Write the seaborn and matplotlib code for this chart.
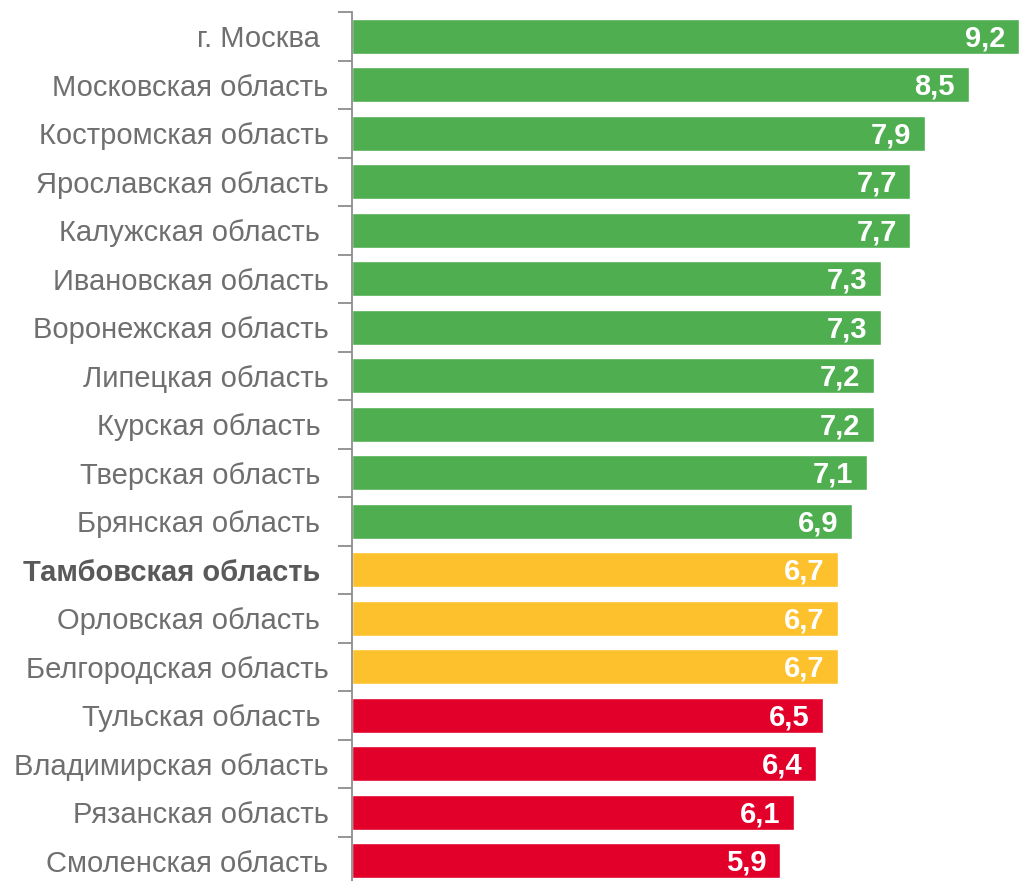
import matplotlib.pyplot as plt
import numpy as np
import pandas as pd
import seaborn as sns

regions = ["г. Москва ", "Московская область", "Костромская область", "Ярославская область",
           "Калужская область ", "Ивановская область", "Воронежская область", "Липецкая область",
           "Курская область ", "Тверская область ", "Брянская область ", "Тамбовская область ",
           "Орловская область ", "Белгородская область", "Тульская область ",
           "Владимирская область", "Рязанская область", "Смоленская область"]
values = [9.2, 8.5, 7.9, 7.7, 7.7, 7.3, 7.3, 7.2, 7.2, 7.1, 6.9, 6.7, 6.7, 6.7, 6.5, 6.4, 6.1, 5.9]
groups = ["high"] * 11 + ["mid"] * 3 + ["low"] * 4

group_colors = {"high": "#4FAE50", "mid": "#FDC12E", "low": "#E2002B"}
highlight = "Тамбовская область "

df = pd.DataFrame({"region": regions, "value": values, "group": groups})

sns.set_style("white")
plt.rcParams['font.family'] = ['Liberation Sans', 'DejaVu Sans']

fig = plt.figure(figsize=(10.2, 8.81), dpi=100)
# axes runs a little past the bottom edge, as in the source image
ax = fig.add_axes([352 / 1020, 1 - 885 / 881, 668 / 1020, 873 / 881])

palette = [group_colors[g] for g in df["group"]]
sns.barplot(data=df, x="value", y="region", hue="region", palette=palette,
            legend=False, width=0.72, saturation=1, ax=ax)

ax.set_xlim(0, 9.21)
ax.set_ylim(len(regions) - 0.5, -0.5)
ax.set_xlabel("")
ax.set_ylabel("")
ax.set_xticks([])

for s in ["top", "right", "bottom"]:
    ax.spines[s].set_visible(False)
ax.spines["left"].set_color("#8c8c8c")
ax.spines["left"].set_linewidth(1.3)

ax.set_yticks(np.arange(-0.5, len(regions), 1), minor=True)
ax.tick_params(axis="y", which="minor", length=10, width=1.3, color="#8c8c8c", left=True)
ax.tick_params(axis="y", which="major", length=0, pad=17, labelsize=21, labelcolor="#6f6f6f")

for lbl in ax.get_yticklabels():
    if lbl.get_text() == highlight:
        lbl.set_fontweight("bold")
        lbl.set_color("#595959")

for i, v in enumerate(values):
    ax.text(v - 0.19, i + 0.04, f"{v:.1f}".replace(".", ","), ha="right", va="center",
            color="white", fontsize=21, fontweight="bold")

plt.savefig("out.png", dpi=100)
